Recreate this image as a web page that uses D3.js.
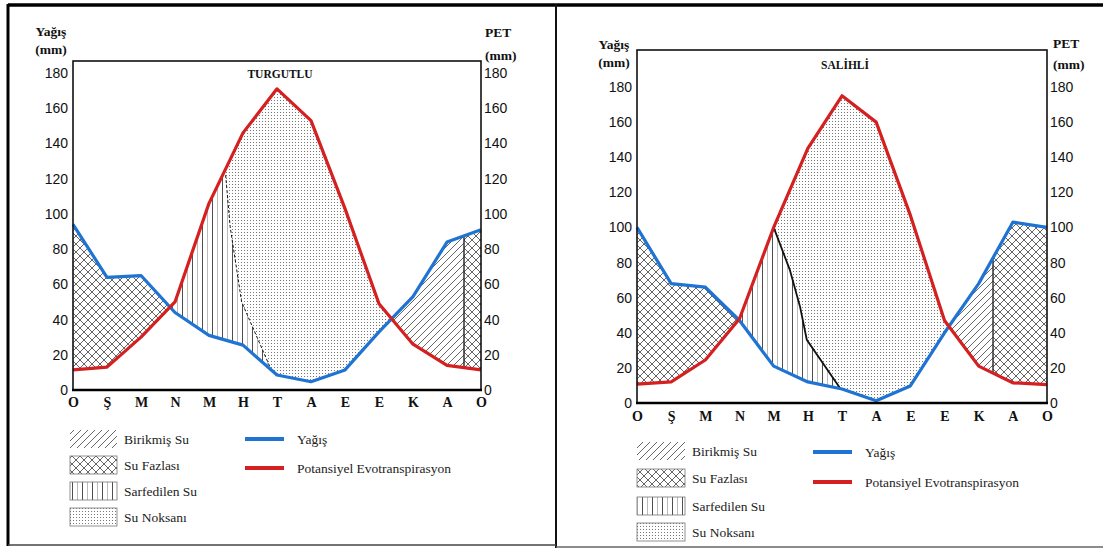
<!DOCTYPE html>
<html>
<head>
<meta charset="utf-8">
<script src="https://cdn.jsdelivr.net/npm/d3@7"></script>
<style>
  body { margin: 0; background: #fff; }
  svg { display: block; }
</style>
</head>
<body>
<div id="chart"></div>
<script>
// Su bilançosu diyagramları – Turgutlu ve Salihli

const MONTHS  = ["O", "Ş", "M", "N", "M", "H", "T", "A", "E", "E", "K", "A", "O"];
const Y_TICKS = [0, 20, 40, 60, 80, 100, 120, 140, 160, 180];

// Turgutlu (mm)
const T_YAGIS = [94, 64, 65, 44, 31, 25.5, 8.5, 4.7, 11.4, 33, 53, 84, 91];
const T_PET   = [11.4, 13, 30, 50, 106, 146, 171, 153, 103, 49, 26, 14, 11.4];
// sarfedilen su sınırı (ay konumu, mm)
const T_SARF_M = [4.49, 4.62, 4.96, 5.84];
const T_SARF_V = [122, 93, 50, 11];
const T_FAZLA_FROM = 11.5;

// Salihli (mm)
const S_YAGIS = [100, 68, 66, 47, 21, 12, 8, 1.3, 9.7, 40, 68, 103, 100];
const S_PET   = [10.8, 12, 24.5, 48, 100, 145, 175, 160, 107, 47, 21, 11.5, 10.5];
const S_SARF_M = [4, 4.47, 4.77, 4.97, 5.94];
const S_SARF_V = [100, 76, 55, 36, 8.5];
const S_FAZLA_FROM = 10.42;

const LEGEND_AREAS = ["Birikmiş Su", "Su Fazlası", "Sarfedilen Su", "Su Noksanı"];
const LEGEND_PATS  = ["p-birikmis", "p-fazla", "p-sarf", "p-noksan"];
const LEGEND_LINES = ["Yağış", "Potansiyel Evotranspirasyon"];

const BLUE = "#1f74d3", RED = "#d42020";
const SERIF = "'Liberation Serif','Times New Roman',serif";
const SANS  = "'Liberation Sans',Arial,sans-serif";

const PANELS = [
  { id: "t", title: "TURGUTLU", yagis: T_YAGIS, pet: T_PET, sarfM: T_SARF_M, sarfV: T_SARF_V,
    fazlaFrom: T_FAZLA_FROM, dashed: true,
    left: 73, right: 481, y0: 390, y180: 73, boxTop: 61, monthPad: 7,
    unitX: 51, unitYs: [36, 54], petX: 485, petYs: [37, 60], titleX: 280, titleY: 78,
    legSwX: 70, legSwW: 47, legTops: [430, 456, 482, 508], legLineX: 245, legLineYs: [439, 468] },
  { id: "s", title: "SALİHLİ", yagis: S_YAGIS, pet: S_PET, sarfM: S_SARF_M, sarfV: S_SARF_V,
    fazlaFrom: S_FAZLA_FROM, dashed: false,
    left: 637, right: 1047, y0: 403, y180: 87, boxTop: 50, monthPad: 8,
    unitX: 614, unitYs: [49, 67], petX: 1053, petYs: [48, 69], titleX: 845, titleY: 69,
    legSwX: 637, legSwW: 48, legTops: [442, 469, 497, 523], legLineX: 813, legLineYs: [452, 482] },
];

const svg = d3.select("#chart").append("svg").attr("width", 1103).attr("height", 549);
const defs = svg.append("defs");

/* ── Patterns ── */
const pat = (id, w, h) => defs.append("pattern").attr("id", id)
  .attr("patternUnits", "userSpaceOnUse").attr("width", w).attr("height", h);

pat("p-birikmis", 7, 7).append("path")
  .attr("d", "M-1,1 L1,-1 M0,7 L7,0 M6,8 L8,6")
  .attr("stroke", "#333").attr("stroke-width", 0.75);

pat("p-fazla", 8, 8).append("path")
  .attr("d", "M0,0 L8,8 M8,0 L0,8")
  .attr("stroke", "#222").attr("stroke-width", 0.7);

const ps = pat("p-sarf", 10, 10);
ps.append("line").attr("x1", 2.5).attr("x2", 2.5).attr("y1", 0).attr("y2", 10)
  .attr("stroke", "#222").attr("stroke-width", 0.8);
ps.append("line").attr("x1", 7.5).attr("x2", 7.5).attr("y1", 0).attr("y2", 10)
  .attr("stroke", "#aaa").attr("stroke-width", 0.8);

pat("p-noksan", 3, 3).append("rect")
  .attr("x", 1).attr("y", 1).attr("width", 1).attr("height", 1).attr("fill", "#767676");

/* ── helpers ── */
const at = (arr, m) => {
  const i = Math.min(Math.floor(m), arr.length - 2), f = m - i;
  return arr[i] * (1 - f) + arr[i + 1] * f;
};
function crossings(a, b) {
  const out = [];
  for (let i = 0; i < a.length - 1; i++) {
    const d0 = a[i] - b[i], d1 = a[i + 1] - b[i + 1];
    if (d0 * d1 < 0 || (d1 === 0 && d0 !== 0)) out.push(i + d0 / (d0 - d1));
  }
  return out;
}
const poly = pts => "M" + pts.map(p => p.join(",")).join("L") + "Z";

/* ── Frame ── */
svg.append("line").attr("x1", 8).attr("x2", 1103).attr("y1", 5).attr("y2", 5)
  .attr("stroke", "#000").attr("stroke-width", 3.5);
svg.append("line").attr("x1", 8).attr("x2", 8).attr("y1", 4).attr("y2", 546)
  .attr("stroke", "#000").attr("stroke-width", 3);
svg.append("line").attr("x1", 556).attr("x2", 556).attr("y1", 4).attr("y2", 548)
  .attr("stroke", "#111").attr("stroke-width", 2);
svg.append("line").attr("x1", 8).attr("x2", 556).attr("y1", 545).attr("y2", 545)
  .attr("stroke", "#444").attr("stroke-width", 1.5);
svg.append("line").attr("x1", 556).attr("x2", 1103).attr("y1", 547).attr("y2", 547)
  .attr("stroke", "#666").attr("stroke-width", 1.5);

PANELS.forEach(p => {
  const x = d3.scaleLinear().domain([0, MONTHS.length - 1]).range([p.left, p.right]);
  const y = d3.scaleLinear().domain([0, 180]).range([p.y0, p.y180]);
  const g = svg.append("g");
  const top = p.boxTop, bottom = p.y0;

  const rows = MONTHS.map((_, i) => ({ b: p.yagis[i], r: p.pet[i] }));
  const between = d3.area().x((d, i) => x(i)).y0(d => y(d.b)).y1(d => y(d.r))(rows);

  const [c1, c2] = crossings(p.yagis, p.pet);
  const sarf = p.sarfM.map((m, i) => [x(m), y(p.sarfV[i])]);
  const b0 = sarf[0], bL = sarf[sarf.length - 1];

  const rect = (a, b) => `M${x(a)},${top}H${x(b)}V${bottom}H${x(a)}Z`;
  const regions = [
    ["fazla",    rect(0, c1) + rect(p.fazlaFrom, MONTHS.length - 1), "p-fazla"],
    ["birikmis", rect(c2, p.fazlaFrom), "p-birikmis"],
    ["sarf",     poly([[x(c1), top], [b0[0], top], ...sarf, [bL[0], bottom], [x(c1), bottom]]), "p-sarf"],
    ["noksan",   poly([[b0[0], top], [x(c2), top], [x(c2), bottom], [bL[0], bottom], ...sarf.slice().reverse()]), "p-noksan"],
  ];

  regions.forEach(([name, d, patId]) => {
    defs.append("clipPath").attr("id", `${p.id}-${name}`).append("path").attr("d", d);
    g.append("path").attr("d", between)
      .attr("fill", `url(#${patId})`)
      .attr("clip-path", `url(#${p.id}-${name})`);
  });

  /* sarfedilen su sınırı */
  g.append("path").datum(sarf)
    .attr("d", d3.line())
    .attr("fill", "none")
    .attr("stroke", "#111")
    .attr("stroke-width", p.dashed ? 1 : 1.8)
    .attr("stroke-dasharray", p.dashed ? "3 2" : null);

  /* birikmiş / fazla ayrımı */
  g.append("line")
    .attr("x1", x(p.fazlaFrom)).attr("x2", x(p.fazlaFrom))
    .attr("y1", y(at(p.yagis, p.fazlaFrom))).attr("y2", y(at(p.pet, p.fazlaFrom)))
    .attr("stroke", "#222").attr("stroke-width", 1.4);

  /* lines */
  const line = d3.line().x((d, i) => x(i)).y(d => y(d));
  g.append("path").datum(p.yagis).attr("d", line)
    .attr("fill", "none").attr("stroke", BLUE).attr("stroke-width", 3.2)
    .attr("stroke-linejoin", "round");
  g.append("path").datum(p.pet).attr("d", line)
    .attr("fill", "none").attr("stroke", RED).attr("stroke-width", 3.2)
    .attr("stroke-linejoin", "round");

  /* box */
  g.append("rect").attr("x", p.left).attr("y", top)
    .attr("width", p.right - p.left).attr("height", bottom - top)
    .attr("fill", "none").attr("stroke", "#111").attr("stroke-width", 1.6);
  g.append("line").attr("x1", p.left - 1).attr("x2", p.right + 1).attr("y1", bottom).attr("y2", bottom)
    .attr("stroke", "#000").attr("stroke-width", 2.6);

  /* axes */
  const styleAx = (ax, size, family, weight) => {
    ax.select(".domain").remove();
    ax.selectAll("text").attr("font-size", size).attr("font-family", family)
      .attr("font-weight", weight).attr("fill", "#111");
  };
  g.append("g").attr("transform", `translate(${p.left},0)`)
    .call(d3.axisLeft(y).tickValues(Y_TICKS).tickSize(0).tickPadding(5))
    .call(ax => styleAx(ax, 14, SANS, "normal"));
  g.append("g").attr("transform", `translate(${p.right},0)`)
    .call(d3.axisRight(y).tickValues(Y_TICKS).tickSize(0).tickPadding(3))
    .call(ax => styleAx(ax, 14, SANS, "normal"));
  g.append("g").attr("transform", `translate(0,${bottom})`)
    .call(d3.axisBottom(x).tickValues(d3.range(MONTHS.length)).tickFormat(i => MONTHS[i])
      .tickSize(0).tickPadding(p.monthPad))
    .call(ax => styleAx(ax, 14, SERIF, "bold"));

  /* axis titles */
  ["Yağış", "(mm)"].forEach((t, i) => g.append("text")
    .attr("x", p.unitX).attr("y", p.unitYs[i]).attr("text-anchor", "middle")
    .attr("font-family", SERIF).attr("font-weight", "bold").attr("font-size", 13.5)
    .attr("fill", "#111").text(t));
  ["PET", "(mm)"].forEach((t, i) => g.append("text")
    .attr("x", p.petX).attr("y", p.petYs[i])
    .attr("font-family", SERIF).attr("font-weight", "bold").attr("font-size", 13.5)
    .attr("fill", "#111").text(t));

  g.append("text").attr("x", p.titleX).attr("y", p.titleY).attr("text-anchor", "middle")
    .attr("font-family", SERIF).attr("font-weight", "bold").attr("font-size", 11.5)
    .attr("fill", "#111").text(p.title);

  /* legend */
  LEGEND_AREAS.forEach((name, i) => {
    g.append("rect").attr("x", p.legSwX).attr("y", p.legTops[i])
      .attr("width", p.legSwW).attr("height", 18)
      .attr("fill", `url(#${LEGEND_PATS[i]})`)
      .attr("stroke", i === 0 ? "none" : "#777").attr("stroke-width", 0.8);
    g.append("text").attr("x", p.legSwX + p.legSwW + 7).attr("y", p.legTops[i] + 14)
      .attr("font-family", SERIF).attr("font-size", 13.5).attr("fill", "#222").text(name);
  });
  LEGEND_LINES.forEach((name, i) => {
    g.append("line").attr("x1", p.legLineX).attr("x2", p.legLineX + 39)
      .attr("y1", p.legLineYs[i]).attr("y2", p.legLineYs[i])
      .attr("stroke", i === 0 ? BLUE : RED).attr("stroke-width", 4);
    g.append("text").attr("x", p.legLineX + 52).attr("y", p.legLineYs[i] + 5)
      .attr("font-family", SERIF).attr("font-size", 13.5).attr("fill", "#222").text(name);
  });
});
</script>
</body>
</html>
